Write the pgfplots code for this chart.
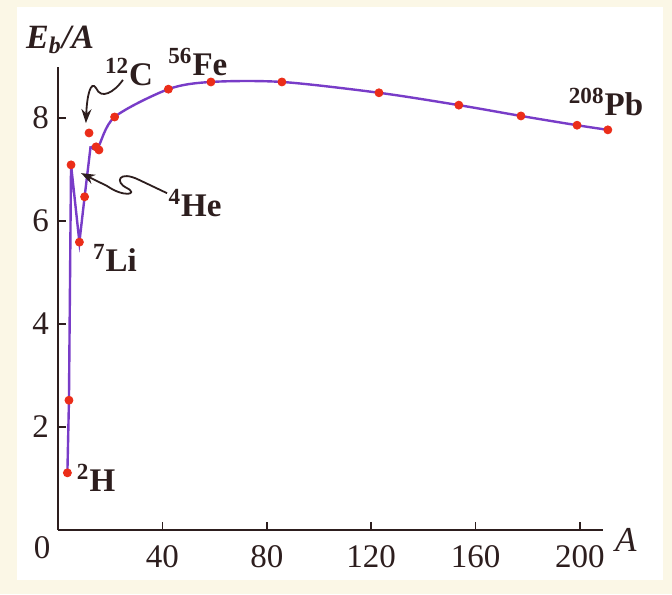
\documentclass[border=0pt]{standalone}
\usepackage{fontspec}
\setmainfont{Liberation Serif}
\usepackage{pgfplots}
\pgfplotsset{compat=1.18}
\usetikzlibrary{arrows.meta}
\definecolor{cream}{RGB}{251,247,230}
\definecolor{curve}{RGB}{120,60,200}
\definecolor{dots}{RGB}{235,45,25}
\definecolor{ink}{RGB}{45,30,30}
\newcommand{\lab}{\fontsize{16.5}{18}\selectfont\bfseries}

\begin{document}
\begin{tikzpicture}
\fill[cream] (-29pt,-32pt) rectangle (307pt,265pt);
\fill[white] (-20.5pt,-25pt) rectangle (302.5pt,261.5pt);
\useasboundingbox (-29pt,-32pt) rectangle (307pt,265pt);
\begin{axis}[
  at={(0,0)}, anchor=south west,
  scale only axis, width=272.7pt, height=231.75pt,
  xmin=0, xmax=209, ymin=0, ymax=9,
  axis lines=left,
  axis line style={-, line width=1.2pt, ink},
  tick align=inside, major tick length=4pt,
  tick style={line width=0.8pt, ink},
  xtick={40,80,...,200}, ytick={2,4,6,8},
  ticklabel style={font=\fontsize{16.5}{18}\selectfont, text=ink},
  xticklabel style={yshift=-4pt},
  yticklabel style={xshift=-1pt},
  /pgf/number format/assume math mode=true,
  clip=false,
]
% binding energy per nucleon, curve
\addplot[curve, line width=1.2pt] coordinates {
  (3.6,1.11) (4.2,2.52) (5.0,7.09) (8.2,5.59) (10.2,6.47) (12.5,7.45)
};
\addplot[curve, line width=1.2pt, smooth, tension=0.5] coordinates {
  (12.5,7.45) (15.2,7.42) (21.7,8.02) (42.3,8.56) (58.6,8.70) (85.8,8.70)
  (123,8.49) (153.6,8.25) (177.4,8.04) (198.9,7.86) (210.7,7.77)
};
% measured points
\addplot[only marks, mark=*, mark size=2pt, dots] coordinates {
  (3.6,1.11) (4.2,2.52) (5.0,7.09) (8.2,5.59) (10.2,6.47) (11.9,7.71)
  (14.6,7.44) (15.7,7.38) (21.7,8.02) (42.3,8.56) (58.6,8.70) (85.8,8.70)
  (123,8.49) (153.6,8.25) (177.4,8.04) (198.9,7.86) (210.7,7.77)
};

\node[font=\fontsize{17}{19}\selectfont\bfseries\itshape, text=ink] at (axis cs:0.8,9.51) {E\textsubscript{b}/A};
\node[font=\lab, text=ink] at (axis cs:27.2,8.89) {\textsuperscript{12}C};
\node[font=\lab, text=ink] at (axis cs:53.6,9.09) {\textsuperscript{56}Fe};
\node[font=\lab, text=ink] at (axis cs:52.5,6.35) {\textsuperscript{4}He};
\node[font=\lab, text=ink] at (axis cs:21.8,5.28) {\textsuperscript{7}Li};
\node[font=\lab, text=ink] at (axis cs:14.6,1.01) {\textsuperscript{2}H};
\node[font=\lab, text=ink] at (axis cs:210,8.31) {\textsuperscript{208}Pb};
\node[font=\fontsize{17.5}{20}\selectfont\itshape, text=ink] at (axis cs:217.6,-0.19) {A};
\node[font=\fontsize{16.5}{18}\selectfont, text=ink] at (axis cs:-6.1,-0.35) {0};

\draw[ink, line width=0.9pt, -{Stealth[length=7pt,width=5pt]}]
  (axis cs:24.9,8.74) .. controls (axis cs:21.5,8.50) and (axis cs:16.5,8.35) ..
  (axis cs:14.6,8.58) .. controls (axis cs:12.6,8.74) and (axis cs:11.1,8.45) ..
  (axis cs:10.7,7.90);
\draw[ink, line width=0.9pt, -{Stealth[length=7pt,width=5pt]}]
  (axis cs:41.8,6.54) -- (axis cs:31.0,6.80)
  .. controls (axis cs:23.4,6.99) and (axis cs:21.5,6.76) .. (axis cs:26.4,6.64)
  .. controls (axis cs:31.0,6.52) and (axis cs:25.3,6.45) .. (axis cs:18.8,6.68)
  -- (axis cs:8.8,6.93);
\end{axis}
\end{tikzpicture}
\end{document}
